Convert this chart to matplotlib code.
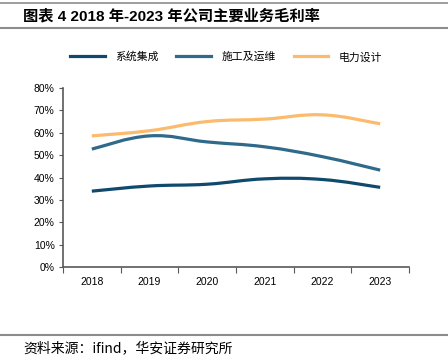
import matplotlib.pyplot as plt
import numpy as np
from matplotlib.path import Path
from matplotlib.patches import PathPatch
from matplotlib.lines import Line2D

plt.rcParams['font.family'] = ['Liberation Sans', 'Noto Sans CJK SC', 'DejaVu Sans']

years = ['2018', '2019', '2020', '2021', '2022', '2023']
xitong = [33.9, 36.2, 37.0, 39.4, 39.1, 35.6]      # 系统集成
shigong = [52.7, 58.6, 55.9, 53.7, 49.3, 43.3]     # 施工及运维
dianli = [58.6, 60.9, 65.0, 66.1, 68.0, 64.0]      # 电力设计
names = ['系统集成', '施工及运维', '电力设计']
colors = ['#0f4a6e', '#2f6a8a', '#fbbb6e']


def smooth_path(x, y, t=0.2):
    # catmull-rom style bezier through the data points
    x = np.asarray(x, float)
    y = np.asarray(y, float)
    verts = [(x[0], y[0])]
    codes = [Path.MOVETO]
    n = len(x)
    for i in range(n - 1):
        p0 = i - 1 if i > 0 else i
        p3 = i + 2 if i + 2 < n else i + 1
        c1 = (x[i] + t * (x[i + 1] - x[p0]), y[i] + t * (y[i + 1] - y[p0]))
        c2 = (x[i + 1] - t * (x[p3] - x[i]), y[i + 1] - t * (y[p3] - y[i]))
        verts += [c1, c2, (x[i + 1], y[i + 1])]
        codes += [Path.CURVE4] * 3
    return Path(verts, codes)


fig = plt.figure(figsize=(4.48, 3.61), dpi=100)
ax = fig.add_axes([63 / 448, 94 / 361, 346 / 448, 179 / 361])

xs = np.arange(len(years))
for vals, c in zip([xitong, shigong, dianli], colors):
    ax.add_patch(PathPatch(smooth_path(xs, vals), fill=False, edgecolor=c,
                           lw=2.3, capstyle='butt'))

ax.set_xlim(-0.5, len(years) - 0.5)
ax.set_ylim(0, 80)
ax.set_yticks(np.arange(0, 81, 10))
ax.set_yticklabels([f'{v}%' for v in range(0, 81, 10)], fontsize=7.5)
ax.set_xticks(np.arange(-0.5, len(years), 1))
ax.set_xticklabels([])
ax.set_xticks(xs, minor=True)
ax.set_xticklabels(years, minor=True, fontsize=7.5)
ax.tick_params(axis='x', which='major', length=4, width=0.8, color='#595959', direction='out')
ax.tick_params(axis='x', which='minor', length=0, pad=7)
ax.tick_params(axis='y', length=3, width=0.8, color='#595959', pad=3)
for s in ['top', 'right']:
    ax.spines[s].set_visible(False)
for s in ['left', 'bottom']:
    ax.spines[s].set_color('#595959')
    ax.spines[s].set_linewidth(1.2)

handles = [Line2D([], [], color=c, lw=2.3) for c in colors]
fig.legend(handles, names, loc='center', bbox_to_anchor=(0.505, 1 - 57 / 361),
           ncol=3, frameon=False, handlelength=3.2,
           columnspacing=1.6, handletextpad=1.0,
           prop={'family': ['Noto Sans CJK SC'], 'size': 7.8, 'weight': 'light'})

fig.add_artist(Line2D([0, 1], [1 - 3 / 361] * 2, color='#8c8c8c', lw=1.2))
fig.add_artist(Line2D([0, 1], [1 - 28 / 361] * 2, color='#8c8c8c', lw=1.5))
fig.add_artist(Line2D([0, 1], [1 - 335 / 361] * 2, color='#8c8c8c', lw=1.5))

fig.text(23 / 448, 1 - 16 / 361, '图表 4 2018 年-2023 年公司主要业务毛利率', fontsize=11,
         fontweight='bold', va='center', ha='left',
         family=['Liberation Sans', 'Noto Sans CJK SC'])
fig.text(23 / 448, 1 - 348 / 361, '资料来源：ifind，华安证券研究所', fontsize=10,
         va='center', ha='left', family=['Noto Sans CJK SC', 'DejaVu Sans'])

fig.savefig('out.png', dpi=100)
